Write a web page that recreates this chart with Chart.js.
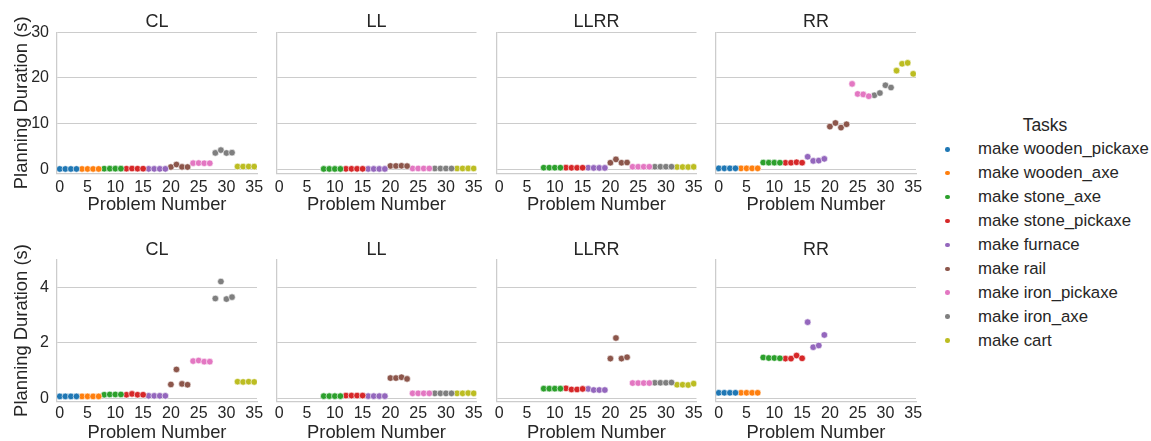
<!DOCTYPE html>
<html>
<head>
<title>Planning Duration by Problem</title>
<script src="https://cdn.jsdelivr.net/npm/chart.js"></script>
<style>
  body {
    margin: 0;
    width: 1151px;
    height: 441px;
    position: relative;
    overflow: hidden;
    background: #ffffff;
    font-family: "Liberation Sans", Arial, sans-serif;
    color: #262626;
  }
  canvas { position: absolute; }
  .legend-title {
    position: absolute;
    left: 940px;
    width: 210px;
    text-align: center;
    font-size: 17.5px;
    line-height: 20px;
  }
  .legend-item {
    position: absolute;
    left: 978px;
    font-size: 16.8px;
    line-height: 20px;
    white-space: nowrap;
  }
  .legend-dot {
    position: absolute;
    width: 4.6px;
    height: 4.6px;
    border-radius: 50%;
    box-shadow: 0 0 0 0.4px #ffffff;
  }
</style>
</head>
<body>
<script>
// panels and tasks
const envs = ['CL', 'LL', 'LLRR', 'RR'];
const tasks = ['make wooden_pickaxe', 'make wooden_axe', 'make stone_axe', 'make stone_pickaxe',
               'make furnace', 'make rail', 'make iron_pickaxe', 'make iron_axe', 'make cart'];
const taskColors = ['#1f77b4', '#ff7f0e', '#2ca02c', '#d62728', '#9467bd',
                    '#8c564b', '#e377c2', '#7f7f7f', '#bcbd22'];

// problem numbers and the task each one belongs to
const problems = [0, 1, 2, 3, 4, 5, 6, 7, 8, 9, 10, 11, 12, 13, 14, 15, 16, 17,
                  18, 19, 20, 21, 22, 23, 24, 25, 26, 27, 28, 29, 30, 31, 32, 33, 34, 35];
const problemTask = [0, 0, 0, 0, 1, 1, 1, 1, 2, 2, 2, 2, 3, 3, 3, 3, 4, 4,
                     4, 4, 5, 5, 5, 5, 6, 6, 6, 6, 7, 7, 7, 7, 8, 8, 8, 8];

// planning duration (s) per problem, null = not solved
const durCL = [0.07, 0.07, 0.07, 0.07, 0.07, 0.07, 0.07, 0.07, 0.13, 0.14, 0.14, 0.14,
               0.13, 0.16, 0.13, 0.13, 0.09, 0.09, 0.09, 0.09, 0.50, 1.04, 0.52, 0.49,
               1.34, 1.36, 1.32, 1.32, 3.59, 4.20, 3.57, 3.64, 0.60, 0.59, 0.60, 0.59];
const durLL = [null, null, null, null, null, null, null, null, 0.08, 0.08, 0.08, 0.08,
               0.10, 0.10, 0.10, 0.10, 0.08, 0.08, 0.08, 0.08, 0.73, 0.73, 0.76, 0.70,
               0.18, 0.18, 0.18, 0.18, 0.18, 0.18, 0.18, 0.18, 0.18, 0.18, 0.19, 0.18];
const durLLRR = [null, null, null, null, null, null, null, null, 0.35, 0.35, 0.35, 0.35,
                 0.36, 0.32, 0.32, 0.34, 0.34, 0.30, 0.30, 0.30, 1.43, 2.17, 1.43, 1.48,
                 0.55, 0.55, 0.55, 0.55, 0.56, 0.56, 0.56, 0.57, 0.49, 0.49, 0.48, 0.53];
const durRR = [0.20, 0.20, 0.20, 0.20, 0.20, 0.20, 0.20, 0.20, 1.47, 1.45, 1.45, 1.44,
               1.43, 1.43, 1.54, 1.44, 2.74, 1.84, 1.90, 2.28, 9.35, 10.14, 9.13, 9.86,
               18.7, 16.5, 16.4, 16.0, 16.2, 16.7, 18.4, 17.9, 21.6, 23.1, 23.3, 20.9];
const durations = [durCL, durLL, durLLRR, durRR];

// tick labels
const xTicks = [0, 5, 10, 15, 20, 25, 30, 35];
const yTicksTop = [0, 10, 20, 30];
const yTicksBottom = [0, 2, 4];

const textColor = '#262626';
const lineColor = '#cccccc';
const fontFamily = '"Liberation Sans", Arial, sans-serif';
const tickSize = 16;
const labelSize = 18.4;

// layout of the grid of panels (pixels)
const colLeft = [57, 276.5, 496.5, 716];
const plotW = 200;
const rows = [
  {top: 32.3, bottom: 173.3, canvasTop: 0, canvasH: 218, titlePadTop: 12.7,
   tickMid: 187.3, xTitleMid: 205, yMin: -0.88, yMax: 30, yTicks: yTicksTop},
  {top: 259.3, bottom: 401.7, canvasTop: 237, canvasH: 210, titlePadTop: 4,
   tickMid: 414, xTitleMid: 432.8, yMin: -0.12, yMax: 5, yTicks: yTicksBottom}
];

function makeDatasets(values) {
  return tasks.map((t, k) => ({
    label: t,
    data: problems.filter((p, i) => problemTask[i] === k && values[i] !== null)
                  .map(p => ({x: p, y: values[p]})),
    backgroundColor: taskColors[k],
    borderColor: '#ffffff',
    borderWidth: 0.6,
    pointRadius: 3.3,
    showLine: false
  }));
}

rows.forEach(row => {
  envs.forEach((env, c) => {
    const canvasLeft = c === 0 ? 0 : Math.floor(colLeft[c] - 14);
    const yW = colLeft[c] - canvasLeft;
    const canvasW = Math.ceil(yW + plotW + 16);
    const padRight = canvasW - yW - plotW;
    const titleH = row.top - row.canvasTop;
    const titlePadBottom = titleH - 18 - row.titlePadTop;
    const xH = row.canvasH - (row.bottom - row.canvasTop);
    const canvasBottom = row.canvasTop + row.canvasH;
    const tickPad = row.tickMid - row.bottom - tickSize * 1.2 / 2;
    const xTitlePad = canvasBottom - row.xTitleMid - labelSize / 2;

    const cv = document.createElement('canvas');
    cv.width = canvasW;
    cv.height = row.canvasH;
    cv.style.left = canvasLeft + 'px';
    cv.style.top = row.canvasTop + 'px';
    document.body.appendChild(cv);

    new Chart(cv, {
      type: 'scatter',
      data: {datasets: makeDatasets(durations[c])},
      options: {
        responsive: false,
        animation: false,
        events: [],
        layout: {padding: {left: 0, right: padRight, top: 0, bottom: 0}},
        plugins: {
          legend: {display: false},
          tooltip: {enabled: false},
          title: {
            display: true,
            text: env,
            fullSize: false,
            color: textColor,
            font: {family: fontFamily, size: 18, weight: 'normal', lineHeight: 1},
            padding: {top: row.titlePadTop, bottom: titlePadBottom}
          }
        },
        scales: {
          x: {
            type: 'linear',
            min: -0.5,
            max: 35.5,
            afterBuildTicks: s => { s.ticks = xTicks.map(v => ({value: v})); },
            afterFit: s => { s.height = xH; },
            grid: {display: false, drawTicks: false},
            border: {display: true, color: lineColor, width: 1.25},
            ticks: {
              color: textColor,
              padding: tickPad,
              maxRotation: 0,
              font: {family: fontFamily, size: tickSize, lineHeight: 1.2},
              callback: v => String(v)
            },
            title: {
              display: true,
              text: 'Problem Number',
              color: textColor,
              font: {family: fontFamily, size: labelSize, lineHeight: 1},
              padding: {top: 0, bottom: xTitlePad}
            }
          },
          y: {
            type: 'linear',
            min: row.yMin,
            max: row.yMax,
            afterBuildTicks: s => { s.ticks = row.yTicks.map(v => ({value: v})); },
            afterFit: s => { s.width = yW; },
            grid: {color: lineColor, lineWidth: 1, drawTicks: false},
            border: {display: true, color: lineColor, width: 1.25},
            ticks: {
              display: c === 0,
              color: textColor,
              padding: 8,
              font: {family: fontFamily, size: tickSize, lineHeight: 1.2},
              callback: v => String(v)
            },
            title: {
              display: c === 0,
              text: 'Planning Duration (s)',
              color: textColor,
              font: {family: fontFamily, size: labelSize, lineHeight: 1},
              padding: {top: 12.8, bottom: 0}
            }
          }
        }
      }
    });
  });
});

// legend (shared by all panels)
const legendTitle = document.createElement('div');
legendTitle.className = 'legend-title';
legendTitle.style.top = '115px';
legendTitle.textContent = 'Tasks';
document.body.appendChild(legendTitle);

tasks.forEach((t, k) => {
  const cy = 149.3 + k * 23.9;
  const dot = document.createElement('div');
  dot.className = 'legend-dot';
  dot.style.background = taskColors[k];
  dot.style.left = (947.3 - 2.3) + 'px';
  dot.style.top = (cy - 2.3) + 'px';
  document.body.appendChild(dot);

  const item = document.createElement('div');
  item.className = 'legend-item';
  item.style.top = (cy - 10) + 'px';
  item.textContent = t;
  document.body.appendChild(item);
});
</script>
</body>
</html>
